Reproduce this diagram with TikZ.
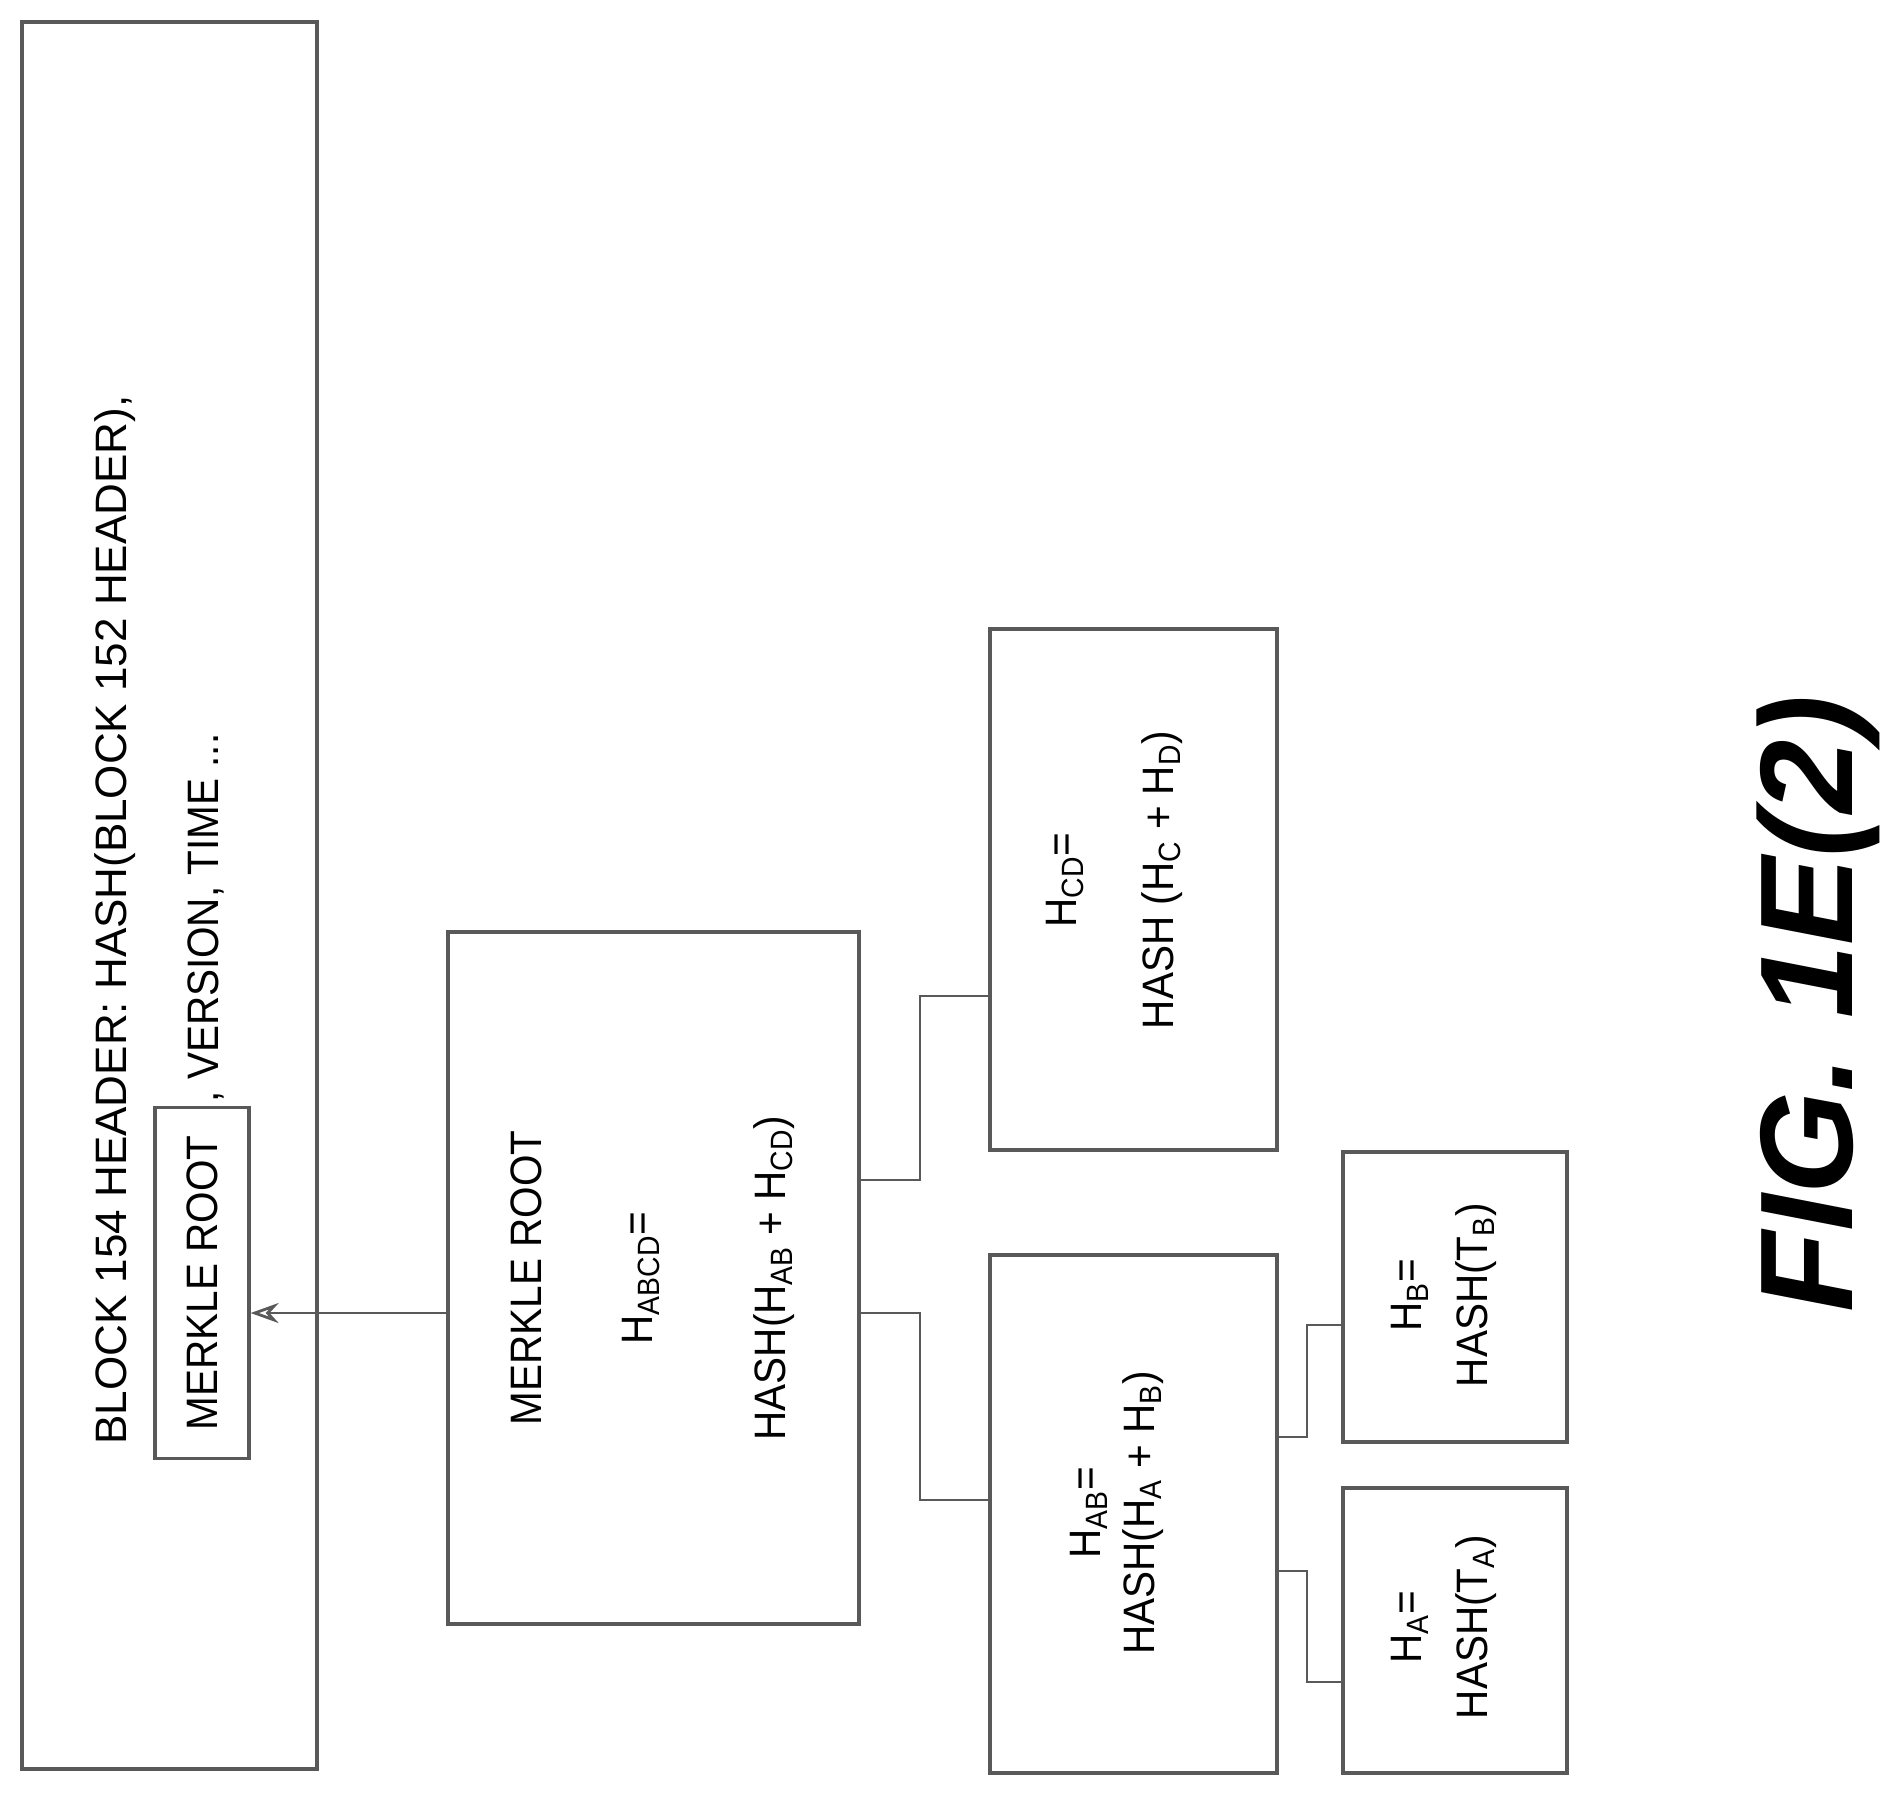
\documentclass[tikz,border=0pt]{standalone}
\usepackage{fontspec}
\usetikzlibrary{arrows.meta}
\setmainfont{Liberation Sans}
\newcommand{\nx}[1]{\scalebox{0.92}[1]{#1}}
\begin{document}
\begin{tikzpicture}[x=0.5pt,y=-0.5pt,
 box/.style={draw=black!65,line width=1.6pt},
 wire/.style={draw=black!65,line width=1.4pt},
 lbl/.style={rotate=90,inner sep=0pt,font=\fontsize{22}{26}\selectfont},
 sl/.style={lbl}]
\useasboundingbox (0,0) rectangle (1888,1795);
\draw[box] (22,22) rectangle (317,1769);
\node[box,draw,minimum width=47pt,minimum height=175.5pt,inner sep=0pt] (mr) at (202,1283) {};
\node[box,draw,minimum width=205.5pt,minimum height=346pt,inner sep=0pt] (root) at (653.5,1278) {};
\node[box,draw,minimum width=143.5pt,minimum height=260.5pt,inner sep=0pt] (cd) at (1133.5,889.5) {};
\node[box,draw,minimum width=143.5pt,minimum height=259pt,inner sep=0pt] (ab) at (1133.5,1514) {};
\node[box,draw,minimum width=112pt,minimum height=145pt,inner sep=0pt] (hb) at (1455,1297) {};
\node[box,draw,minimum width=112pt,minimum height=142.5pt,inner sep=0pt] (ha) at (1455,1630.5) {};
% texts
\node[lbl] (l1) at (115,920) {BLOCK 154 HEADER: HASH(BLOCK 152 HEADER),};
\node[sl] (l2) at (206,918) {\nx{, VERSION, TIME ...}};
\node[sl] (mrt) at (202,1283) {\nx{MERKLE ROOT}};
\node[sl] (r1) at (526,1278) {\nx{MERKLE ROOT}};
\node[sl] (r2) at (641,1278) {\nx{H$_{\mathrm{ABCD}}$=}};
\node[sl] (r3) at (774,1278) {\nx{HASH(H$_{\mathrm{AB}}$ + H$_{\mathrm{CD}}$)}};
\node[sl] (c1) at (1065,880) {\nx{H$_{\mathrm{CD}}$=}};
\node[sl] (c2) at (1162,880) {\nx{HASH (H$_{\mathrm{C}}$ + H$_{\mathrm{D}}$)}};
\node[sl] (a1) at (1089,1513) {\nx{H$_{\mathrm{AB}}$=}};
\node[sl] (a2) at (1143,1513) {\nx{HASH(H$_{\mathrm{A}}$ + H$_{\mathrm{B}}$)}};
\node[sl] (b1) at (1410,1295) {\nx{H$_{\mathrm{B}}$=}};
\node[sl] (b2) at (1476,1295) {\nx{HASH(T$_{\mathrm{B}}$)}};
\node[sl] (h1) at (1410,1627) {\nx{H$_{\mathrm{A}}$=}};
\node[sl] (h2) at (1476,1627) {\nx{HASH(T$_{\mathrm{A}}$)}};
\node[rotate=90,inner sep=0pt,font=\fontsize{66}{74}\selectfont\bfseries\itshape] (fig) at (1818,1004) {FIG. 1E(2)};
% connectors
\draw[wire,-{Stealth[length=14pt,width=10pt,open]}] (root.west |- 0,1313) -- (mr.east |- 0,1313);
\draw[wire] (root.east |- 0,1180) -- (920,1180) -- (920,996) -- (cd.west |- 0,996);
\draw[wire] (root.east |- 0,1313) -- (920,1313) -- (920,1500) -- (ab.west |- 0,1500);
\draw[wire] (ab.east |- 0,1437) -- (1307,1437) -- (1307,1325) -- (hb.west |- 0,1325);
\draw[wire] (ab.east |- 0,1571) -- (1307,1571) -- (1307,1682) -- (ha.west |- 0,1682);
\end{tikzpicture}
\end{document}
